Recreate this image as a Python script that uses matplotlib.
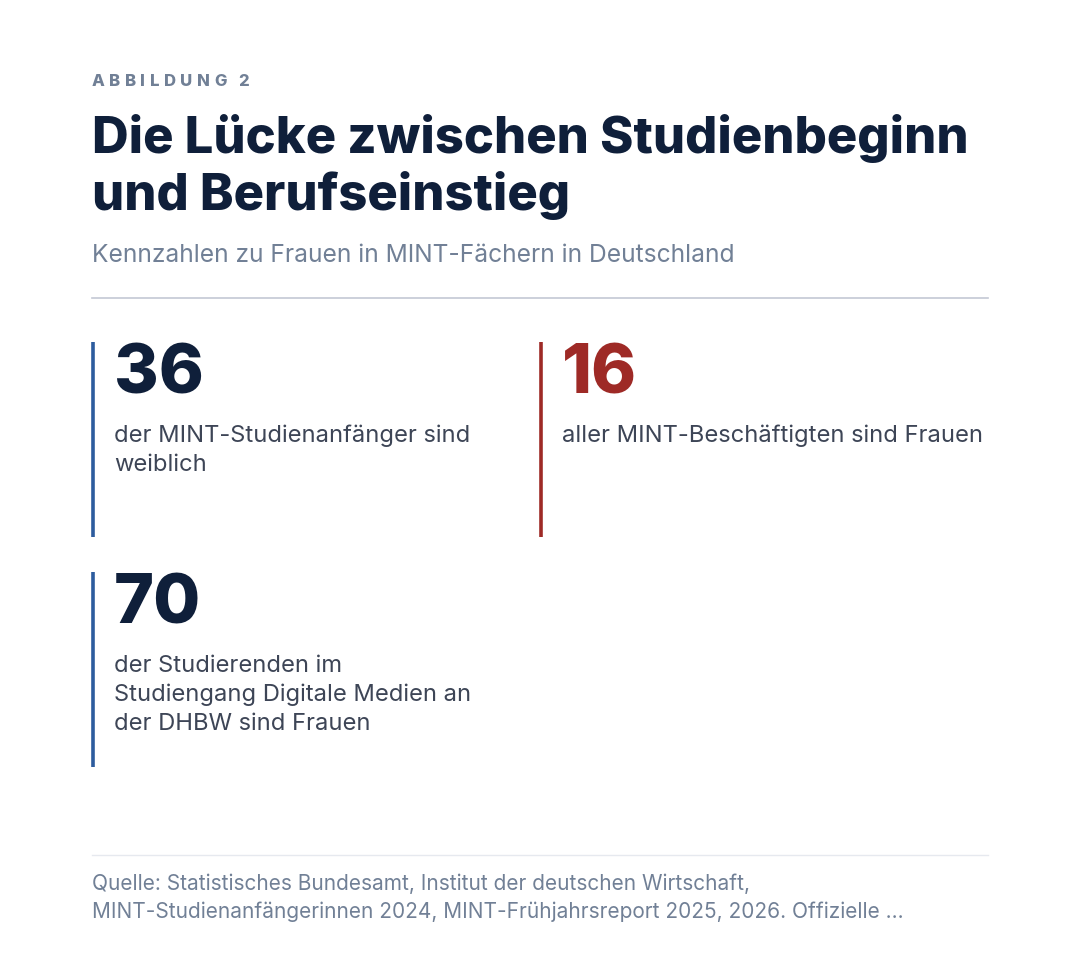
import matplotlib
matplotlib.use("Agg")
import matplotlib.pyplot as plt

# data
kicker = "ABBILDUNG 2"
title_lines = ["Die Lücke zwischen Studienbeginn", "und Berufseinstieg"]
subtitle = "Kennzahlen zu Frauen in MINT-Fächern in Deutschland"
kpi_values = ["36", "16", "70"]
kpi_texts = [
    "der MINT-Studienanfänger sind\nweiblich",
    "aller MINT-Beschäftigten sind Frauen",
    "der Studierenden im\nStudiengang Digitale Medien an\nder DHBW sind Frauen",
]
kpi_accents = ["#2d5c9e", "#9e2a26", "#2d5c9e"]
kpi_value_colors = ["#0f1f3a", "#9e2a26", "#0f1f3a"]
source = ("Quelle: Statistisches Bundesamt, Institut der deutschen Wirtschaft,\n"
          "MINT-Studienanfängerinnen 2024, MINT-Frühjahrsreport 2025, 2026. Offizielle …")

W, H = 1080, 958
FONT = "Inter"
NAVY = "#0f1f3a"
GREY = "#718096"
BODY = "#3d4556"

fig = plt.figure(figsize=(W / 100, H / 100), dpi=100)
ax = fig.add_axes([0, 0, 1, 1])
ax.set_xlim(0, W)
ax.set_ylim(H, 0)
ax.axis("off")
fig.canvas.draw()
renderer = fig.canvas.get_renderer()

# letter-spaced kicker
x = 92
for ch in kicker:
    t = ax.text(x, 86, ch, fontsize=12, fontweight="heavy", color=GREY,
                family=FONT, va="baseline", ha="left")
    bb = t.get_window_extent(renderer)
    x += bb.width + 4.4 if ch != " " else 7

for i, line in enumerate(title_lines):
    ax.text(92, 153 + i * 57, line, fontsize=36.5, fontweight="heavy",
            color=NAVY, family=FONT, va="baseline")

ax.text(92, 262, subtitle, fontsize=17.7, color=GREY, family=FONT,
        va="baseline")
ax.plot([92, 988], [298, 298], color="#c3c8d4", lw=1.2)

# KPI cards: two columns, rows of 230 px
col_x = [93, 541]
row_y = [342, 572]
for k in range(len(kpi_values)):
    cx = col_x[k % 2]
    cy = row_y[k // 2]
    ax.plot([cx, cx], [cy, cy + 195], color=kpi_accents[k], lw=2.6,
            solid_capstyle="butt")
    ax.text(cx + 21, cy + 51, kpi_values[k], fontsize=49, fontweight="heavy",
            color=kpi_value_colors[k], family=FONT, va="baseline")
    for j, ln in enumerate(kpi_texts[k].split("\n")):
        ax.text(cx + 21, cy + 100 + j * 29, ln, fontsize=17.1, color=BODY,
                family=FONT, va="baseline")

ax.plot([92, 988], [855, 855], color="#e6e9ef", lw=1)
for j, ln in enumerate(source.split("\n")):
    ax.text(92, 890 + j * 28, ln, fontsize=15, color=GREY, family=FONT,
            va="baseline")

fig.savefig("out.png", dpi=100, facecolor="white")
